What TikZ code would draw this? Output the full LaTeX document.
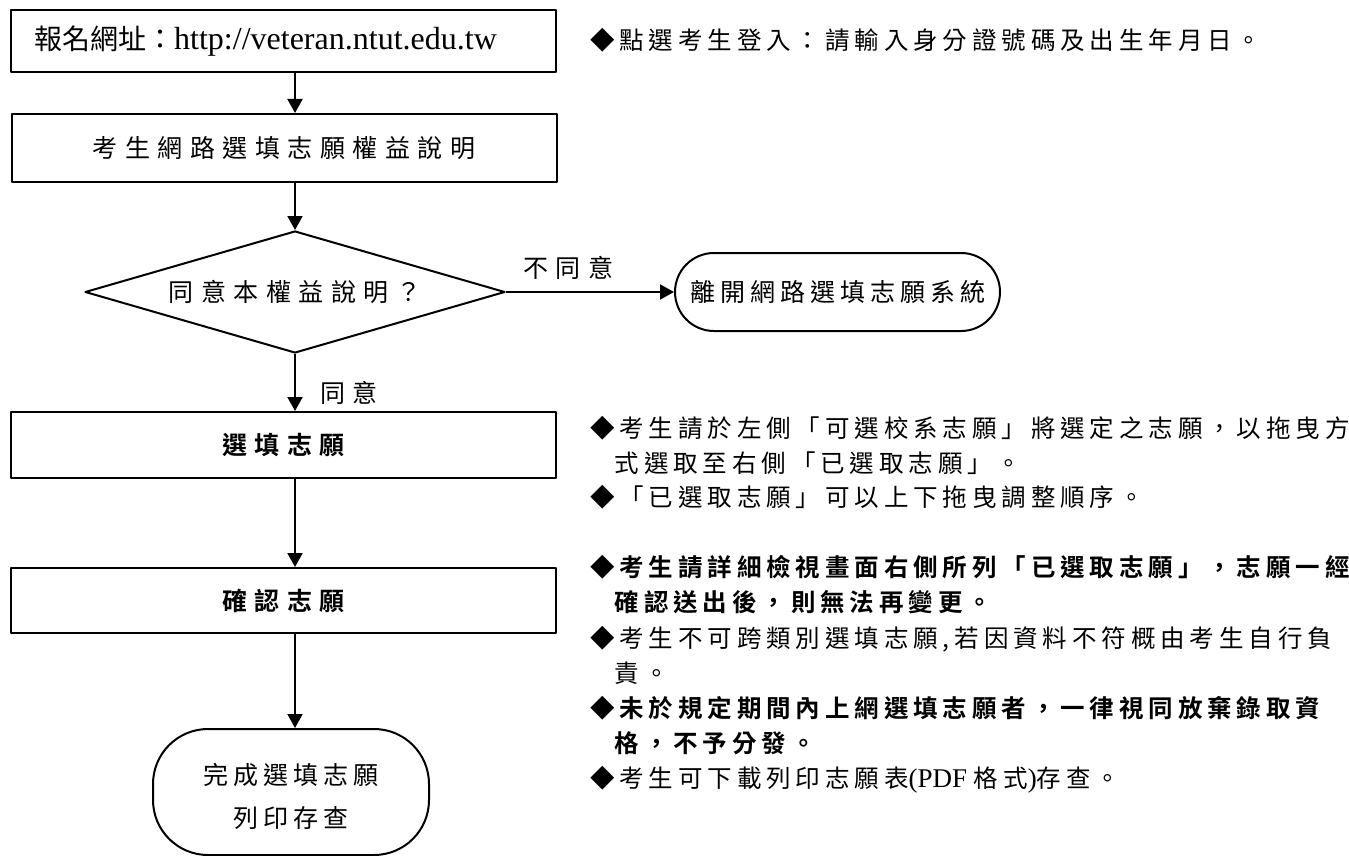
\documentclass[tikz,border=0pt]{standalone}
\usepackage{fontspec}
\usetikzlibrary{arrows.meta,shapes.geometric,positioning}
\setmainfont{Liberation Serif}
\IfFontExistsTF{Noto Sans CJK TC Bold}{%
\newfontfamily\cjkplain{Noto Sans CJK TC}[BoldFont={Noto Sans CJK TC Bold}]
\newfontfamily\cjkbox{Noto Sans CJK TC}[LetterSpace=30,BoldFont={Noto Sans CJK TC Bold}]
\newfontfamily\cjknote{Noto Sans CJK TC}[LetterSpace=20,BoldFont={Noto Sans CJK TC Bold}]
}{%
\newfontfamily\cjkplain{Noto Sans CJK TC}[AutoFakeBold=2]
\newfontfamily\cjkbox{Noto Sans CJK TC}[LetterSpace=30,AutoFakeBold=2]
\newfontfamily\cjknote{Noto Sans CJK TC}[LetterSpace=20,AutoFakeBold=2]
}

\begin{document}
\begin{tikzpicture}[x=1pt, y=-1pt, line join=round,
  box/.style={draw, line width=2pt, minimum width=545pt, inner sep=0pt,
    font=\cjkbox\fontsize{25}{30}\selectfont},
  decision/.style={draw, diamond, aspect=3.44, line width=2pt, minimum width=420pt,
    minimum height=122pt, inner sep=0pt, font=\cjkbox\fontsize{25}{30}\selectfont},
  term/.style={draw, line width=2pt, inner sep=0pt, align=center,
    font=\cjknote\fontsize{25}{43}\selectfont},
  flow/.style={line width=2pt, -{Triangle[length=14pt,width=15pt]}},
  tag/.style={inner sep=0pt, font=\cjkbox\fontsize{25}{30}\selectfont},
  note/.style={anchor=base west, inner sep=0pt, align=left,
    font=\cjknote\fontsize{24.5}{35}\selectfont}]
\useasboundingbox (0,0) rectangle (1349,856);

% flow chart
\node[box, minimum height=62pt, font=\cjkplain\fontsize{28}{30}\selectfont] (url) at (283.5,41)
  {報名網址：{\rmfamily\fontsize{32}{34}\selectfont http://veteran.ntut.edu.tw}\hspace*{36pt}};
\node[box, minimum height=68pt] (rights) at (284,148) {考生網路選填志願權益說明};
\node[decision] (agree) at (295,292) {同意本權益說明？};
\node[term, minimum width=325pt, minimum height=78pt, rounded corners=39pt] (leave) at (837.5,292)
  {離開網路選填志願系統};
\node[box, minimum height=66pt, font=\cjkbox\fontsize{25}{30}\selectfont\bfseries] (choose) at (283.5,445) {選填志願};
\node[box, minimum height=65pt, font=\cjkbox\fontsize{25}{30}\selectfont\bfseries] (confirm) at (283.5,600.5) {確認志願};
\node[term, minimum width=276pt, minimum height=126pt, rounded corners=55pt] (done) at (291,792)
  {\rule{0pt}{30pt}完成選填志願\\列印存查};

\draw[flow] (url.south -| agree.north) -- (rights.north -| agree.north);
\draw[flow] (rights.south -| agree.north) -- (agree.north);
\draw[flow] (agree.east) -- node[tag, pos=0.37, above=11pt] (no) {不同意} (agree.east -| leave.west);
\draw[flow] (agree.south) -- node[tag, pos=0.68, right=24pt] (yes) {同意} (choose.north -| agree.south);
\draw[flow] (choose.south -| agree.south) -- (confirm.north -| agree.south);
\draw[flow] (confirm.south -| agree.south) -- (done.north -| agree.south);

% notes (base = last line)
\node[note] (n1) at (590,50) {◆點選考生登入：請輸入身分證號碼及出生年月日。};
\node[note] (n2) at (590,472) {◆考生請於左側「可選校系志願」將選定之志願，以拖曳方\\
  \phantom{◆}式選取至右側「已選取志願」。};
\node[note] (n3) at (590,506) {◆「已選取志願」可以上下拖曳調整順序。};
\node[note, font=\cjknote\fontsize{24.5}{35}\selectfont\bfseries] (n4) at (590,611)
  {◆考生請詳細檢視畫面右側所列「已選取志願」，志願一經\\
  \phantom{◆}確認送出後，則無法再變更。};
\node[note] (n5) at (590,682) {◆考生不可跨類別選填志願,若因資料不符概由考生自行負\\
  \phantom{◆}責。};
\node[note, font=\cjknote\fontsize{24.5}{35}\selectfont\bfseries] (n6) at (590,752)
  {◆未於規定期間內上網選填志願者，一律視同放棄錄取資\\
  \phantom{◆}格，不予分發。};
\node[note] (n7) at (590,787)
  {◆考生可下載列印志願表{\rmfamily\fontsize{27}{35}\selectfont(PDF }格式{\rmfamily\fontsize{27}{35}\selectfont)}存查。};
\end{tikzpicture}
\end{document}
